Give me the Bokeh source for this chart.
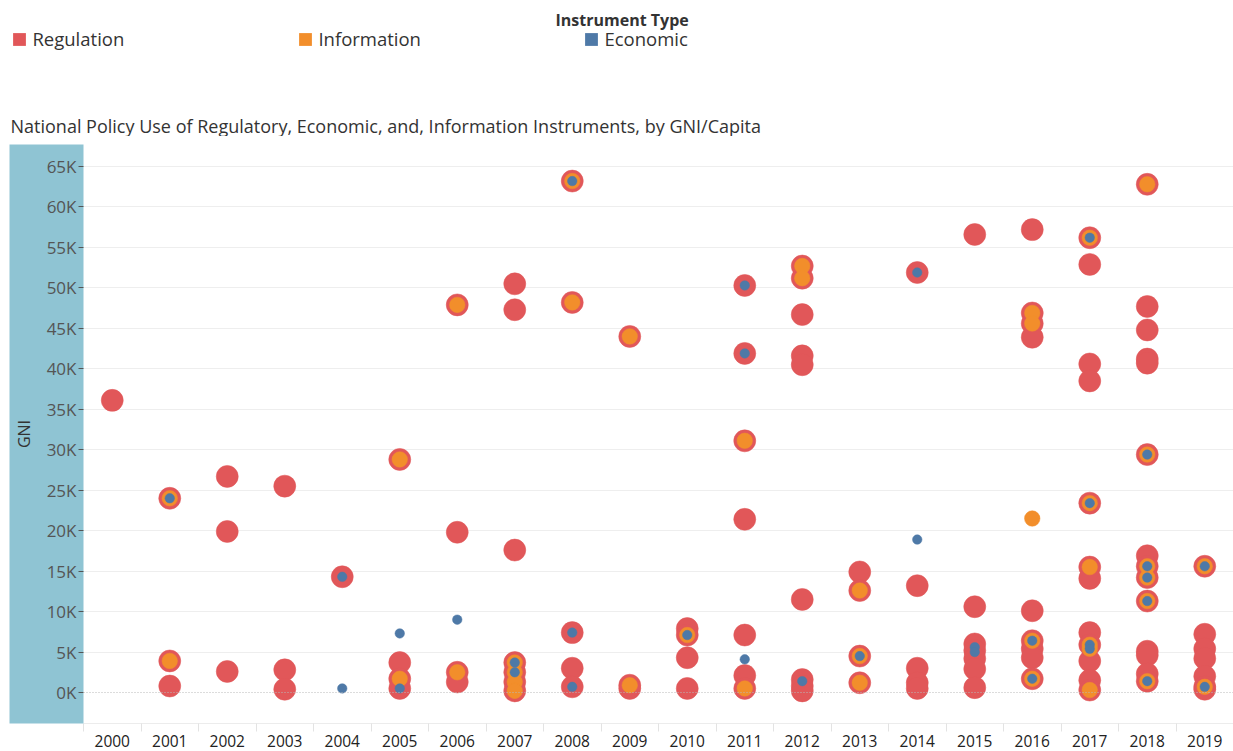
from bokeh.plotting import figure
from bokeh.layouts import column
from bokeh.models import (Range1d, FixedTicker, Span, Label, Legend, LegendItem)
from bokeh.embed import file_html
from bokeh.resources import INLINE

# ---------------- data ----------------
years = list(range(2000, 2020))

reg_year = ([2000] + [2001]*3 + [2002]*3 + [2003]*3 + [2004] + [2005]*4 + [2006]*4 +
            [2007]*7 + [2008]*5 + [2009]*3 + [2010]*4 + [2011]*7 + [2012]*9 + [2013]*4 +
            [2014]*5 + [2015]*7 + [2016]*9 + [2017]*12 + [2018]*14 + [2019]*7)
reg_gni = [36100,
           24000, 3900, 800,
           26700, 19900, 2600,
           25500, 2800, 400,
           14300,
           28800, 3700, 1700, 500,
           47900, 19800, 2500, 1300,
           50500, 47300, 17600, 3700, 2500, 1300, 200,
           63200, 48200, 7400, 3000, 700,
           44000, 900, 500,
           7900, 7100, 4300, 500,
           50300, 41900, 31100, 21400, 7100, 2100, 500,
           52700, 51200, 46700, 41600, 40500, 11500, 1600, 800, 200,
           14900, 12600, 4500, 1200,
           51900, 13200, 3000, 1200, 500,
           56600, 10600, 6000, 5200, 4200, 2900, 600,
           57200, 46900, 45600, 43900, 10100, 6400, 5400, 4300, 1700,
           56200, 52900, 40600, 38500, 23400, 15500, 14100, 7400, 5900, 3900, 1500, 300,
           62800, 47700, 44800, 41200, 40700, 29400, 16900, 15600, 14200, 11300, 5100, 4600, 2300, 1400,
           15600, 7200, 5400, 4200, 2000, 700, 400]

info_year = ([2001]*2 + [2005]*2 + [2006]*2 + [2007]*4 + [2008]*2 + [2009]*2 + [2010] +
             [2011]*2 + [2012]*2 + [2013]*3 + [2016]*5 + [2017]*6 + [2018]*6 + [2019]*2)
info_gni = [24000, 3900,
            28800, 1700,
            47900, 2500,
            3700, 2500, 1300, 200,
            63200, 48200,
            44000, 900,
            7100,
            31100, 500,
            52700, 51200,
            12600, 4500, 1200,
            46900, 45600, 21500, 6400, 1700,
            56200, 23400, 15500, 5900, 5400, 300,
            62800, 29400, 15600, 14200, 11300, 1400,
            15600, 700]

econ_year = ([2001] + [2004]*2 + [2005]*2 + [2006] + [2007]*2 + [2008]*3 + [2010] +
             [2011]*3 + [2012] + [2013] + [2014]*2 + [2015]*2 + [2016]*2 + [2017]*4 +
             [2018]*5 + [2019]*2)
econ_gni = [24000,
            14300, 500,
            7300, 500,
            9000,
            3700, 2500,
            63200, 7400, 700,
            7100,
            50300, 41900, 4100,
            1400,
            4500,
            51900, 18900,
            5600, 5000,
            6400, 1700,
            56200, 23400, 5900, 5400,
            29400, 15600, 14200, 11300, 1400,
            15600, 700]

y_ticks = list(range(0, 65001, 5000))
y_tick_labels = {t: f"{t // 1000}K" for t in y_ticks}

series_names = ["Regulation", "Information", "Economic"]
legend_title = "Instrument Type"
title_text = "National Policy Use of Regulatory, Economic, and, Information Instruments, by GNI/Capita"

# ---------------- style ----------------
RED = "#e15759"
ORANGE = "#f28e2b"
BLUE = "#4e79a7"
BAND = "#8fc4d3"
FONT = "Open Sans"

W = 1233
HEAD_H = 136
MAIN_H = 614
LEFT, TOP, BOTTOM = 83, 8, 27

# ---------------- header (legend + title) ----------------
head = figure(width=W, height=HEAD_H, output_backend="svg", toolbar_location=None,
              x_range=Range1d(0, W), y_range=Range1d(HEAD_H, 0),
              min_border=0, x_axis_location=None, y_axis_location=None)
try:
    head.frame_align = False
except Exception:
    pass
head.outline_line_color = None
head.grid.visible = False
head.background_fill_color = "white"
head.border_fill_color = "white"

# legend swatch renderers (hidden; they only supply the square legend glyphs)
swatches = []
for xs, ys, c in ((reg_year, reg_gni, RED), (info_year, info_gni, ORANGE), (econ_year, econ_gni, BLUE)):
    swatches.append(head.rect(x=xs, y=ys, width=1, height=1, fill_color=c,
                              line_color=None, visible=False))
gh = 16
legend = Legend(items=[LegendItem(label=n, renderers=[r]) for n, r in zip(series_names, swatches)],
                orientation="horizontal", click_policy="none",
                location=(11.4, HEAD_H - 35 - gh),
                padding=0, margin=0, spacing=3, glyph_width=gh, glyph_height=gh,
                label_standoff=5, label_width=262, label_height=gh,
                border_line_alpha=0, background_fill_alpha=0,
                label_text_font=FONT, label_text_font_size="18.5px",
                label_text_color="#333333", label_text_baseline="middle")
head.add_layout(legend)

head.add_layout(Label(x=555, y=19, text=legend_title, text_font=FONT,
                      text_font_size="16px", text_font_style="bold",
                      text_color="#333333", text_baseline="middle"))
head.add_layout(Label(x=10, y=125, text=title_text, text_font=FONT,
                      text_font_size="18px", text_color="#333333",
                      text_baseline="middle"))

# ---------------- main plot ----------------
p = figure(width=W, height=MAIN_H, output_backend="svg", toolbar_location=None,
           x_range=Range1d(1999.5, 2019.5), y_range=Range1d(-3831, 67719),
           min_border_left=LEFT, min_border_right=0, min_border_top=TOP,
           min_border_bottom=BOTTOM)
try:
    p.frame_align = False
except Exception:
    pass
p.outline_line_color = None
p.background_fill_color = "white"
p.border_fill_color = "white"

xa = p.xaxis[0]
xa.ticker = FixedTicker(ticks=years, minor_ticks=[y - 0.5 for y in years] + [2019.5])
xa.major_tick_out = 0
xa.major_tick_in = 0
xa.minor_tick_out = 8
xa.minor_tick_in = 0
xa.minor_tick_line_color = "#e3e3e3"
xa.axis_line_color = "#ececec"
xa.major_label_standoff = 3
xa.major_label_text_font = FONT
xa.major_label_text_font_size = "15.5px"
xa.major_label_text_color = "#222222"
xa.major_label_overrides = {y: str(y) for y in years}

ya = p.yaxis[0]
ya.ticker = FixedTicker(ticks=y_ticks)
ya.major_label_overrides = y_tick_labels
ya.major_tick_out = 5
ya.major_tick_in = 0
ya.major_tick_line_color = "#555555"
ya.minor_tick_line_color = None
ya.axis_line_color = None
ya.major_label_standoff = 2
ya.major_label_text_font = FONT
ya.major_label_text_font_size = "17px"
ya.major_label_text_color = "#555555"
ya.axis_label = "GNI"
ya.axis_label_text_font = FONT
ya.axis_label_text_font_size = "16px"
ya.axis_label_text_font_style = "normal"
ya.axis_label_text_color = "#333333"
ya.axis_label_standoff = 9
try:
    ya.background_fill_color = BAND
    ya.background_fill_alpha = 1.0
except Exception:
    pass

p.xgrid.grid_line_color = None
p.ygrid.ticker = FixedTicker(ticks=y_ticks[1:])
p.ygrid.grid_line_color = "#eeeeee"
p.ygrid.grid_line_width = 1
p.add_layout(Span(location=0, dimension="width", line_color="#b8b8b8",
                  line_dash="1 2", line_width=1))

p.scatter(reg_year, reg_gni, size=22, fill_color=RED, line_color=RED, line_width=0.5)
p.scatter(info_year, info_gni, size=15.5, fill_color=ORANGE, line_color=ORANGE, line_width=0.5)
p.scatter(econ_year, econ_gni, size=9.5, fill_color=BLUE, line_color=BLUE, line_width=0.5)

layout = column(head, p, spacing=0)
open("out.html", "w").write(file_html(layout, INLINE))
